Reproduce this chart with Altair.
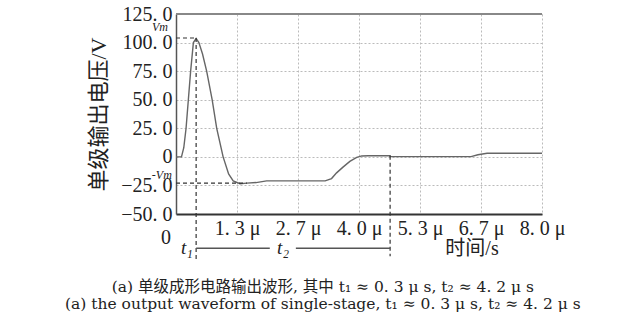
import altair as alt
import pandas as pd

# waveform (time in microseconds, voltage in V)
time_us = [0, 0.12, 0.17, 0.22, 0.27, 0.32, 0.38, 0.44, 0.50, 0.58, 0.67, 0.79, 0.89,
           1.03, 1.15, 1.25, 1.40, 1.55, 1.75, 1.98, 2.3, 2.8, 3.26, 3.4, 3.51, 3.65,
           3.80, 3.95, 4.06, 4.2, 4.68, 4.68, 5.5, 6.45, 6.6, 6.8, 8.0]
volts = [0, 0, 8, 25, 50, 75, 100, 103.5, 100, 90, 75, 50, 25,
         0, -15, -21, -23.5, -23, -22.5, -21, -21, -21, -21, -19, -14, -9,
         -4, -0.5, 0.8, 1.0, 1.0, 0.2, 0.2, 0.2, 1.8, 3.2, 3.2]

x_ticks = [0, 4 / 3, 8 / 3, 4, 16 / 3, 20 / 3, 8]
x_tick_labels = ["", "1. 3 μ", "2. 7 μ", "4. 0 μ", "5. 3 μ", "6. 7 μ", "8. 0 μ"]
y_ticks = [-50, -25, 0, 25, 50, 75, 100, 125]

vm = 104
neg_vm = -23
t1_pos = 0.44
t2_end = 4.68

dashed_x1 = [0, 0, t1_pos, t2_end]
dashed_x2 = [t1_pos, 1.55, t1_pos, t2_end]
dashed_y1 = [vm, neg_vm, vm, 1.0]
dashed_y2 = [vm, neg_vm, -90, -87]

t2_seg_x1 = [t1_pos, 2.62]
t2_seg_x2 = [2.05, t2_end]

label_texts = ["Vm", "-Vm", "0", "t₁", "t₂", "时间/s"]
label_x = [-0.35, -0.31, -0.22, 0.24, 2.34, 6.47]
label_y = [113.5, -16, -71, -80, -80, -80.5]
label_sizes = [12, 12, 20, 19, 19, 20]
label_styles = ["italic", "italic", "normal", "italic", "italic", "normal"]

caption_lines = ["(a) 单级成形电路输出波形, 其中 t₁ ≈ 0. 3 μ s, t₂ ≈ 4. 2 μ s",
                 "(a) the output waveform of single-stage, t₁ ≈ 0. 3 μ s, t₂ ≈ 4. 2 μ s"]
caption_y = [-114, -129]

FONT = "Liberation Serif, Noto Sans CJK SC"
CAP_FONT = "DejaVu Serif, Noto Sans CJK SC"
COL = "#666666"

wave = pd.DataFrame({"t": time_us, "v": volts, "i": range(len(time_us))})
xs = alt.Scale(domain=[0, 8], nice=False)
ys = alt.Scale(domain=[-50, 125], nice=False)

lbl_expr = "[" + ",".join("'%s'" % s for s in x_tick_labels) + "][round(datum.value*3/4)]"

x_axis = alt.Axis(values=x_ticks, labelExpr=lbl_expr, title=None, ticks=False,
                  labelOverlap=False, labelFlush=False,
                  grid=True, gridDash=[2, 2], gridColor="#bbbbbb",
                  domainColor="#333333", domainWidth=2,
                  labelFont=FONT, labelFontSize=20, labelColor="#222222",
                  labelPadding=4)
y_axis = alt.Axis(values=y_ticks, title="单级输出电压/V", ticks=False,
                  labelOverlap=False, labelFlush=False,
                  labelExpr="datum.value == 0 ? '0' : replace(format(datum.value, '.1f'), '.', '. ')",
                  grid=True, gridDash=[2, 2], gridColor="#bbbbbb",
                  domainColor="#555555", domainWidth=1.5,
                  labelFont=FONT, labelFontSize=20, labelColor="#222222",
                  labelPadding=4, titleFont=FONT, titleFontSize=22,
                  titleFontWeight="normal", titleColor="#222222",
                  titlePadding=10)


def X(f):
    return alt.X(f, scale=xs, axis=x_axis)


def Y(f):
    return alt.Y(f, scale=ys, axis=y_axis)


line = alt.Chart(wave).mark_line(color=COL, strokeWidth=1.4).encode(
    x=X("t:Q"), y=Y("v:Q"), order="i:Q")

top = alt.Chart(pd.DataFrame({"y": [125]})).mark_rule(color="#888888", strokeWidth=2).encode(
    y=Y("y:Q"), x=alt.value(0), x2=alt.value(366))

dashes = alt.Chart(pd.DataFrame({"x1": dashed_x1, "x2": dashed_x2, "y1": dashed_y1, "y2": dashed_y2})).mark_rule(
    color="#333333", strokeWidth=1.2, strokeDash=[4, 3]).encode(
    x=X("x1:Q"), x2="x2:Q", y=Y("y1:Q"), y2="y2:Q")

t2seg = alt.Chart(pd.DataFrame({"x1": t2_seg_x1, "x2": t2_seg_x2, "y": [-80, -80]})).mark_rule(
    color="#555555", strokeWidth=1.5).encode(
    x=X("x1:Q"), x2="x2:Q", y=Y("y:Q"))

label_df = pd.DataFrame({"x": label_x, "y": label_y, "txt": label_texts, "s": label_sizes, "st": label_styles})
labels_it = alt.Chart(label_df[label_df.st == "italic"]).mark_text(
    font=FONT, fontStyle="italic", color="#222222", align="center", baseline="middle").encode(
    x=X("x:Q"), y=Y("y:Q"), text="txt:N",
    size=alt.Size("s:Q", scale=None, legend=None))
labels_n = alt.Chart(label_df[label_df.st == "normal"]).mark_text(
    font=FONT, color="#222222", align="center", baseline="middle").encode(
    x=X("x:Q"), y=Y("y:Q"), text="txt:N",
    size=alt.Size("s:Q", scale=None, legend=None))

caption = alt.Chart(pd.DataFrame({"x": [3.21, 3.21], "y": caption_y, "txt": caption_lines})).mark_text(
    font=CAP_FONT, fontSize=15.5, color="#222222", align="center", baseline="middle").encode(
    x=X("x:Q"), y=Y("y:Q"), text="txt:N")

chart = alt.layer(line, top, dashes, t2seg, labels_it, labels_n, caption).properties(
    width=366, height=200,
    autosize=alt.AutoSizeParams(type="none"),
    padding={"left": 176, "top": 14, "right": 81, "bottom": 115},
    background="white",
).configure_view(stroke=None)

chart.save("out.html", embed_options={"renderer": "svg", "actions": False})
